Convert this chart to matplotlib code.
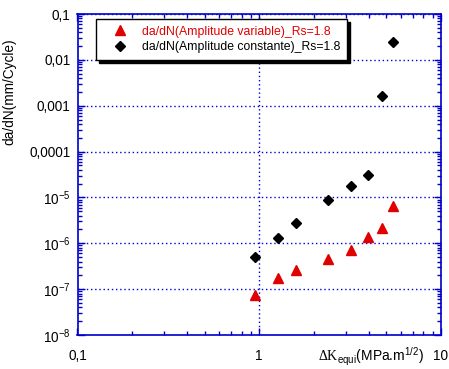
import matplotlib
matplotlib.use("Agg")
import matplotlib.pyplot as plt
from matplotlib.ticker import FixedLocator, FixedFormatter, LogLocator, NullFormatter

plt.rcParams['font.family'] = ['Liberation Sans', 'DejaVu Sans']
plt.rcParams['mathtext.fontset'] = 'custom'
plt.rcParams['mathtext.rm'] = 'Liberation Serif'
plt.rcParams['mathtext.sf'] = 'Liberation Sans'
plt.rcParams['mathtext.it'] = 'Liberation Sans:italic'

# Data
dk_var = [0.947, 1.272, 1.59, 2.38, 3.19, 3.98, 4.75, 5.44]
dadn_var = [7.6e-8, 1.73e-7, 2.62e-7, 4.48e-7, 7.15e-7, 1.35e-6, 2.16e-6, 6.5e-6]
dk_const = [0.947, 1.272, 1.59, 2.38, 3.19, 3.98, 4.75, 5.44]
dadn_const = [5.1e-7, 1.32e-6, 2.77e-6, 8.7e-6, 1.8e-5, 3.13e-5, 1.63e-3, 0.0249]
label_var = "da/dN(Amplitude variable)_Rs=1.8"
label_const = "da/dN(Amplitude constante)_Rs=1.8"
xticks = [0.1, 1, 10]
xticklabels = ["0,1", "1", "10"]
yticks = [1e-8, 1e-7, 1e-6, 1e-5, 1e-4, 1e-3, 1e-2, 1e-1]
yticklabels = [r"$\mathsf{10^{-8}}$", r"$\mathsf{10^{-7}}$", r"$\mathsf{10^{-6}}$",
               r"$\mathsf{10^{-5}}$", "0,0001", "0,001", "0,01", "0,1"]

fig = plt.figure(figsize=(4.49, 3.69), dpi=100)
ax = fig.add_axes([77.5/449, 1-335/369, (441-77.5)/449, (335-14)/369])
ax.set_xscale('log')
ax.set_yscale('log')
ax.set_xlim(0.1, 10)
ax.set_ylim(1e-8, 0.1)

blue = '#0000cc'
for s in ax.spines.values():
    s.set_color(blue)
    s.set_linewidth(1.2)

ax.xaxis.set_major_locator(FixedLocator(xticks))
ax.xaxis.set_major_formatter(FixedFormatter(xticklabels))
ax.yaxis.set_major_locator(FixedLocator(yticks))
ax.yaxis.set_major_formatter(FixedFormatter(yticklabels))
ax.xaxis.set_minor_locator(LogLocator(base=10, subs=range(2, 10)))
ax.yaxis.set_minor_locator(LogLocator(base=10, subs=range(2, 10)))
ax.xaxis.set_minor_formatter(NullFormatter())
ax.yaxis.set_minor_formatter(NullFormatter())
ax.tick_params(which='both', direction='in', top=True, right=True, color=blue,
               labelsize=9.8, labelcolor='black')
ax.tick_params(which='major', length=5, width=1)
ax.tick_params(which='minor', length=3, width=1)
ax.tick_params(axis='x', pad=10)
ax.tick_params(axis='y', pad=5)
ax.grid(True, which='major', color=blue, linestyle=(0, (1, 2)), linewidth=1)

ax.plot(dk_var, dadn_var, linestyle='none', marker='^', color='#e00000',
        markersize=6.5, label=label_var, zorder=3)
ax.plot(dk_const, dadn_const, linestyle='none', marker='D', color='black',
        markersize=5.2, label=label_const, zorder=3)

leg = ax.legend(loc='upper left', bbox_to_anchor=((96-77.5)/363.5, 1-(19-14)/321),
                frameon=True, fancybox=False, shadow={'color': 'black', 'alpha': 1},
                edgecolor='black', fontsize=8.8, handletextpad=0.45,
                borderpad=0.55, labelspacing=0.3, handlelength=2.75, borderaxespad=0)
leg.get_frame().set_linewidth(1)
leg.get_texts()[0].set_color('#e00000')

ax.set_ylabel("da/dN(mm/Cycle)", fontsize=9.8)
ax.yaxis.set_label_coords(-0.167, 0.757)

fig.text(318/449, 1-361/369,
         r"$\Delta\mathrm{K}_{\mathsf{equi}}$(MPa.m$^{\mathsf{1/2}}$)",
         fontsize=10, va='baseline', ha='left')

fig.savefig("out.png", dpi=100)
